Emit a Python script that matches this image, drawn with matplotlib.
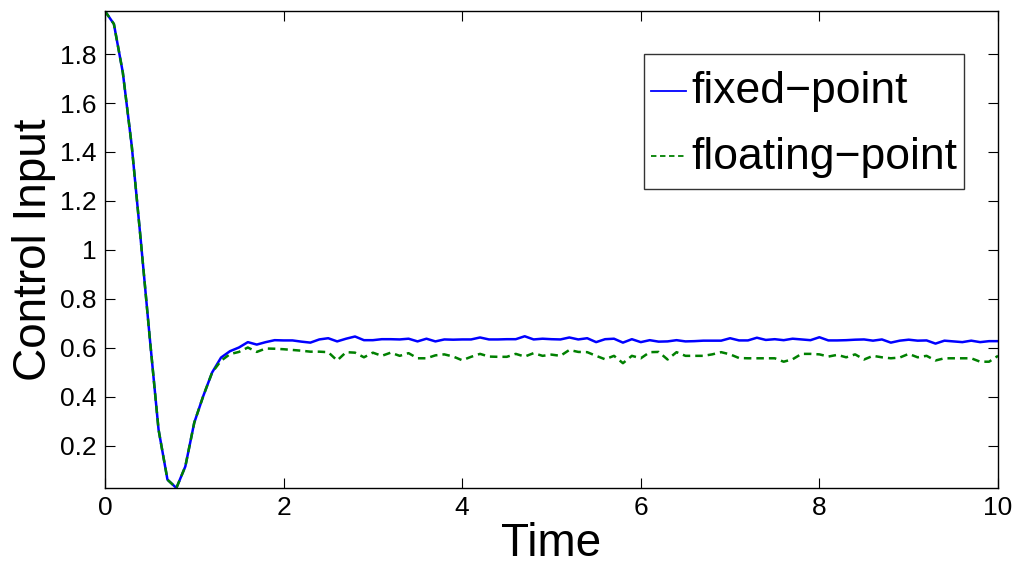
"""Control input over time: fixed-point vs floating-point controller."""

from matplotlib import pyplot as plt
import numpy as np

plt.rcParams['font.family'] = ['Liberation Sans', 'DejaVu Sans']

# sample times (step 0.1 s)
time = np.round(np.arange(0, 10.01, 0.1), 1)

# shared transient (0.0 .. 1.2)
transient = [1.976, 1.923, 1.725, 1.425, 1.043, 0.647, 0.266, 0.061, 0.027,
             0.115, 0.294, 0.402, 0.499]

# fixed-point, 1.3 .. 10.0
fixed_tail = [0.560, 0.586, 0.601, 0.623, 0.613, 0.623, 0.631, 0.630,
              0.630, 0.625, 0.621, 0.634, 0.639, 0.626, 0.637, 0.646, 0.631,
              0.631, 0.635, 0.635, 0.634, 0.637, 0.626, 0.637, 0.626, 0.634,
              0.633, 0.634, 0.634, 0.642, 0.634, 0.634, 0.635, 0.635, 0.647,
              0.634, 0.637, 0.635, 0.634, 0.642, 0.634, 0.639, 0.623, 0.635,
              0.637, 0.621, 0.635, 0.623, 0.631, 0.625, 0.626, 0.631, 0.626,
              0.627, 0.629, 0.629, 0.629, 0.639, 0.630, 0.630, 0.641, 0.632,
              0.635, 0.631, 0.637, 0.634, 0.631, 0.643, 0.630, 0.630, 0.631,
              0.633, 0.634, 0.629, 0.634, 0.621, 0.629, 0.633, 0.629, 0.630,
              0.617, 0.629, 0.626, 0.623, 0.629, 0.623, 0.627, 0.627]

# floating-point, 1.3 .. 10.0
float_tail = [0.547, 0.574, 0.583, 0.601, 0.583, 0.597, 0.596, 0.594,
              0.591, 0.588, 0.584, 0.584, 0.582, 0.548, 0.582, 0.580, 0.561,
              0.580, 0.567, 0.580, 0.567, 0.578, 0.557, 0.557, 0.569, 0.573,
              0.564, 0.549, 0.563, 0.575, 0.564, 0.563, 0.563, 0.575, 0.564,
              0.578, 0.567, 0.572, 0.567, 0.591, 0.583, 0.582, 0.567, 0.553,
              0.567, 0.537, 0.567, 0.557, 0.582, 0.583, 0.552, 0.582, 0.567,
              0.567, 0.567, 0.573, 0.582, 0.573, 0.558, 0.557, 0.557, 0.557,
              0.557, 0.543, 0.553, 0.575, 0.575, 0.573, 0.564, 0.571, 0.561,
              0.573, 0.552, 0.567, 0.561, 0.557, 0.560, 0.575, 0.561, 0.567,
              0.548, 0.557, 0.557, 0.557, 0.557, 0.543, 0.543, 0.567]

fixed_point = transient + fixed_tail
floating_point = transient + float_tail

fig = plt.figure(figsize=(10.16, 5.65), dpi=100)
ax = fig.add_axes([0.1033, 0.1363, 0.879, 0.8442])

ax.plot(time, fixed_point, color='#0000ff', lw=1.8, label='fixed\u2212point')
ax.plot(time, floating_point, color='#008000', lw=1.8, ls=(0, (3.0, 2.0)),
        label='floating\u2212point')

ax.set_xlim(0, 10)
ax.set_ylim(0.027, 1.976)
ax.set_xticks([0, 2, 4, 6, 8, 10])
ax.set_yticks([0.2, 0.4, 0.6, 0.8, 1.0, 1.2, 1.4, 1.6, 1.8])
ax.set_yticklabels(['0.2', '0.4', '0.6', '0.8', '1', '1.2', '1.4', '1.6', '1.8'])
ax.tick_params(direction='in', length=7, width=0.8, labelsize=19,
               top=True, right=True, pad=6)
for side in ax.spines.values():
    side.set_linewidth(1.0)

ax.set_xlabel('Time', fontsize=33, labelpad=1)
ax.set_ylabel('Control Input', fontsize=33, labelpad=3)

leg = ax.legend(loc='upper right', bbox_to_anchor=(964 / 1016, 1 - 54 / 565),
                bbox_transform=fig.transFigure, fontsize=32, frameon=True,
                fancybox=False, handlelength=0.8, handletextpad=0.1,
                handleheight=1.54, borderpad=0.16, labelspacing=0.22,
                borderaxespad=0)
leg.get_frame().set_edgecolor('black')
leg.get_frame().set_linewidth(1.0)
for line in leg.get_lines():
    line.set_linewidth(1.3)
    # lower the handle to sit at the middle of the lowercase letters
    line.set_ydata(np.asarray(line.get_ydata()) - 6.5)

fig.savefig('out.png', dpi=100)
